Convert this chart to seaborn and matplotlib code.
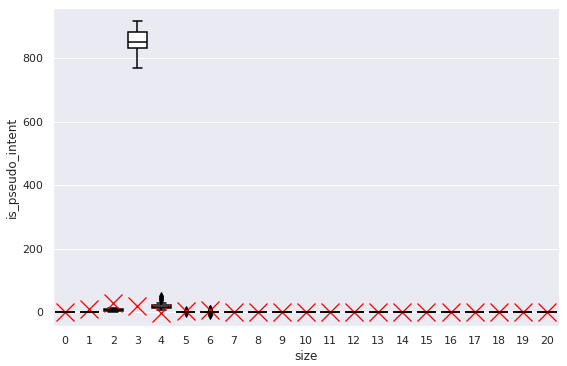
import matplotlib
matplotlib.use("Agg")
import matplotlib.pyplot as plt  # noqa: E402
import pandas as pd  # noqa: E402
import seaborn as sns  # noqa: E402

# category labels on the x axis
sizes = list(range(21))

intent_values = [
    [0, 0, 0, 0, 0],
    [0, 0, 0, 0, 0],
    [0, 2, 5, 10, 12],
    [770, 831, 850, 883, 917],
    [5, 8, 10, 10, 12, 14, 15, 16, 18, 19, 20, 20, 28, 38, 45, 50],
    [0, 0, 0, 0, 0, 0, 0, 0, 3, -3, 5],
    [0, 0, 0, 0, 0, 0, 0, 0, 0, 0, -8, -4, 4, 8, 11],
] + [[0, 0, 0]] * 14

# second series drawn as red crosses
cross_values = [0, 9, 30, 19, -2, 3, 6, 0, 0, 0, 0, 0, 0, 0, 0, 0, 0, 0, 0, 0, 0]

rows = [(s, v) for s, vals in zip(sizes, intent_values) for v in vals]
df = pd.DataFrame(rows, columns=["size", "is_pseudo_intent"])
cross_df = pd.DataFrame({"size": sizes, "is_pseudo_intent": cross_values})

sns.set_theme(style="darkgrid", context="notebook")
plt.rcParams["font.family"] = ["DejaVu Sans"]

fig = plt.figure(figsize=(567 / 72, 366 / 72), dpi=72)
ax = fig.add_axes([53 / 567, 40 / 366, 506 / 567, 318 / 366])

sns.boxplot(
    data=df, x="size", y="is_pseudo_intent", order=sizes, ax=ax,
    color="white", linecolor="black", linewidth=1.5, saturation=1,
    flierprops=dict(marker="d", markerfacecolor="black",
                    markeredgecolor="black", markersize=5),
)
sns.pointplot(
    data=cross_df, x="size", y="is_pseudo_intent", order=sizes, ax=ax,
    color="red", markers="x", linestyle="none", errorbar=None,
    markersize=18, markeredgewidth=1.3,
)

ax.set_ylim(-44, 958)
ax.set_xlim(-0.5, 20.5)
ax.set_xlabel("size")
ax.set_ylabel("is_pseudo_intent")

fig.savefig("out.png", dpi=72)
